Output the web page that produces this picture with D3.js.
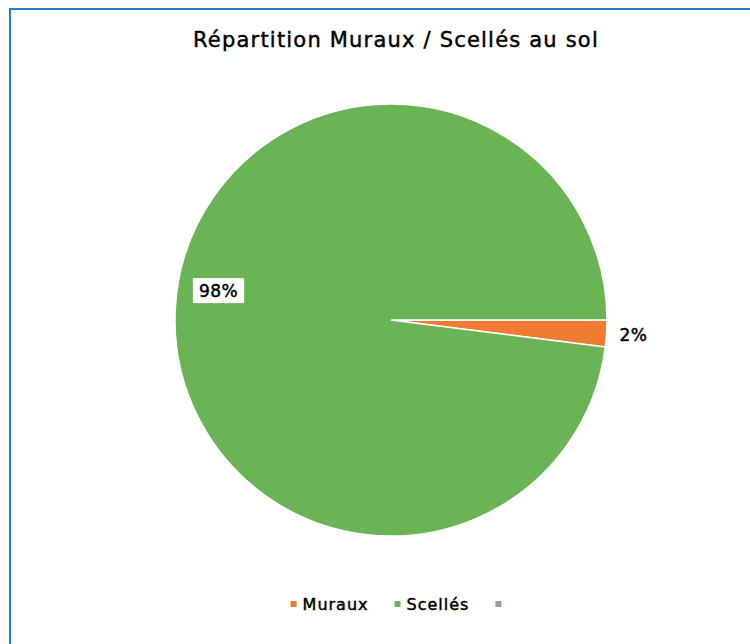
<!DOCTYPE html>
<html>
<head>
<meta charset="utf-8">
<script src="https://cdn.jsdelivr.net/npm/d3@7"></script>
<style>
  body { margin: 0; background: #fff; }
  svg { display: block; }
  text { stroke: #000; stroke-width: 0.45px; }
</style>
</head>
<body>
<svg id="svg" width="750" height="644"></svg>
<script>
// data
const categories = ['Muraux', 'Scellés', ''];
const values = [2, 98, 0];
const labels = ['2%', '98%', ''];
const colors = ['#f07c32', '#6bb456', '#a89c96'];
const title = 'Répartition Muraux / Scellés au sol';

const svg = d3.select('#svg');
const font = '"DejaVu Sans", sans-serif';

// frame
svg.append('rect')
    .attr('x', 10)
    .attr('y', 9)
    .attr('width', 760)
    .attr('height', 660)
    .style('fill', '#fff')
    .style('stroke', '#1f7fd4')
    .style('stroke-width', 2);

svg.append('text')
    .attr('x', 396)
    .attr('y', 47)
    .attr('text-anchor', 'middle')
    .style('font-family', font)
    .style('font-size', '21px')
    .style('letter-spacing', '1.2px')
    .style('fill', '#000')
    .text(title);

const cx = 391, cy = 320, radius = 216;

const pie = d3.pie()
    .sort(null)
    .startAngle(Math.PI / 2)
    .endAngle(Math.PI / 2 + 2 * Math.PI);

const arcs = pie(values);
const arc = d3.arc().innerRadius(0).outerRadius(radius);

const g = svg.append('g').attr('transform', `translate(${cx},${cy})`);

g.selectAll('path')
    .data(arcs.filter(d => d.value > 0))
    .enter()
    .append('path')
    .attr('d', arc)
    .style('fill', (d) => colors[d.index])
    .style('stroke', '#fff')
    .style('stroke-width', 1.5);

// labels: small slice outside, big slice inside near the edge
const outerLabel = d3.arc().innerRadius(radius + 27).outerRadius(radius + 27);
const innerLabel = d3.arc().innerRadius(radius * 0.8).outerRadius(radius * 0.8);

arcs.filter(d => d.value > 0).forEach((d) => {
    const small = d.value < 10;
    const [x, y] = small ? outerLabel.centroid(d) : innerLabel.centroid(d);
    const ly = small ? y : y - 18;
    const lg = g.append('g').attr('transform', `translate(${x},${ly})`);
    const t = lg.append('text')
        .attr('text-anchor', 'middle')
        .attr('dy', '0.35em')
        .style('font-family', font)
        .style('font-size', '17px')
        .style('letter-spacing', '0.5px')
        .style('fill', '#000')
        .text(labels[d.index]);
    if (!small) {
        const b = t.node().getBBox();
        lg.insert('rect', 'text')
            .attr('x', b.x - 6)
            .attr('y', b.y - 3)
            .attr('width', b.width + 12)
            .attr('height', b.height + 5)
            .style('fill', '#fff');
    }
});

// legend
const legend = svg.append('g');
let lx = 0;
categories.forEach((c, i) => {
    const item = legend.append('g').attr('transform', `translate(${lx},0)`);
    item.append('rect')
        .attr('x', 0)
        .attr('y', -3)
        .attr('width', 6)
        .attr('height', 6)
        .style('fill', colors[i]);
    const t = item.append('text')
        .attr('x', 12)
        .attr('dy', '0.35em')
        .style('font-family', font)
        .style('font-size', '16px')
        .style('letter-spacing', '1px')
        .style('fill', '#000')
        .text(c);
    lx += 12 + t.node().getComputedTextLength() + 26;
});
const lw = lx - 26;
legend.attr('transform', `translate(${399 - lw / 2},604)`);
</script>
</body>
</html>
